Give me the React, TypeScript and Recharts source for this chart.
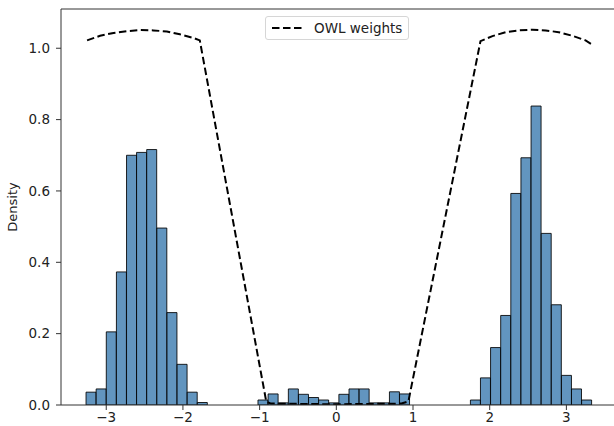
import { Bar, ComposedChart, Legend, Line, XAxis, YAxis } from "recharts";

// histogram bins (centres) and their density
const binCenters = [
  -3.198, -3.066, -2.934, -2.802, -2.67, -2.539, -2.407, -2.275, -2.143, -2.011,
  -1.879, -1.747, -1.615, -1.483, -1.351, -1.22, -1.088, -0.956, -0.824, -0.692,
  -0.56, -0.428, -0.296, -0.165, -0.033, 0.099, 0.231, 0.363, 0.495, 0.627,
  0.758, 0.89, 1.022, 1.154, 1.286, 1.418, 1.55, 1.682, 1.814, 1.945,
  2.077, 2.209, 2.341, 2.473, 2.605, 2.737, 2.869, 3.001, 3.132, 3.264,
];
const density = [
  0.036, 0.045, 0.205, 0.373, 0.7, 0.708, 0.716, 0.496, 0.259, 0.114,
  0.036, 0.007, 0, 0, 0, 0, 0, 0.014, 0.031, 0.006,
  0.045, 0.03, 0.021, 0.014, 0.006, 0.03, 0.045, 0.045, 0.006, 0.006,
  0.037, 0.031, 0, 0, 0, 0, 0, 0, 0.014, 0.076,
  0.161, 0.251, 0.593, 0.693, 0.838, 0.481, 0.281, 0.083, 0.045, 0.014,
];

// OWL weight curve
const owlX = [
  -3.25, -3.08, -2.905, -2.73, -2.56, -2.385, -2.21, -2.04, -1.865, -1.78,
  -0.913, -0.85, 0, 0.85, 0.94, 1.88, 2.036, 2.21, 2.384, 2.557,
  2.73, 2.9, 3.077, 3.25, 3.337,
];
const owlW = [
  1.022, 1.035, 1.043, 1.048, 1.051, 1.05, 1.047, 1.039, 1.029, 1.022,
  0.009, 0.004, 0.002, 0.004, 0.01, 1.02, 1.034, 1.045, 1.05, 1.052,
  1.05, 1.045, 1.035, 1.022, 1.01,
];

const xTicks = [-3, -2, -1, 0, 1, 2, 3];
const yTicks = [0, 0.2, 0.4, 0.6, 0.8, 1.0];
const xDomain = [-3.59, 3.66];

const histData = binCenters.map((x, i) => ({ x, density: density[i] }));
const owlData = owlX.map((x, i) => ({ x, w: owlW[i] }));

const font = "'DejaVu Sans', sans-serif";
const tickStyle = { fontSize: 13.5, fill: "#222", fontFamily: font };

function OwlLegend() {
  return (
    <div
      style={{
        display: "flex",
        alignItems: "center",
        background: "#fff",
        border: "1px solid #d6d6d6",
        borderRadius: 3,
        padding: "3px 6px",
        fontFamily: font,
        fontSize: 13.5,
        color: "#222",
        whiteSpace: "nowrap",
      }}
    >
      <svg width={30} height={6} style={{ marginRight: 12 }}>
        <line x1={0} y1={3} x2={30} y2={3} stroke="#000" strokeWidth={2} strokeDasharray="7.5 3.5" />
      </svg>
      OWL weights
    </div>
  );
}

export default function App() {
  return (
    <div style={{ position: "absolute", left: 0, top: 0, width: 614, height: 426, overflow: "hidden", background: "#fff" }}>
      <ComposedChart
        width={630}
        height={426}
        data={histData}
        margin={{ top: 8, right: 12, bottom: 0, left: 0 }}
        barCategoryGap={0}
        barGap={0}
      >
        <XAxis
          dataKey="x"
          type="number"
          domain={xDomain}
          allowDataOverflow
          ticks={xTicks}
          tickFormatter={(v: number) => String(v).replace("-", "\u2212")}
          tick={tickStyle}
          tickSize={5}
          tickMargin={2}
          height={21}
          stroke="#333"
        />
        {/* top spine, also the x axis of the weight curve */}
        <XAxis
          xAxisId="top"
          orientation="top"
          dataKey="x"
          type="number"
          domain={xDomain}
          allowDataOverflow
          tick={false}
          tickLine={false}
          height={1}
          stroke="#333"
        />
        <YAxis
          type="number"
          domain={[0, 1.11]}
          allowDataOverflow
          ticks={yTicks}
          tickFormatter={(v: number) => v.toFixed(1)}
          tick={tickStyle}
          tickSize={5}
          tickMargin={6}
          width={61}
          stroke="#333"
          label={{ value: "Density", angle: -90, position: "insideLeft", offset: 12, style: { fontSize: 13, fill: "#222", fontFamily: font, textAnchor: "middle" } }}
        />
        <YAxis yAxisId="right" orientation="right" domain={[0, 1.11]} tick={false} tickLine={false} width={1} stroke="#333" />
        <Legend
          layout="horizontal"
          align="center"
          verticalAlign="middle"
          content={() => <OwlLegend />}
          wrapperStyle={{ top: 16, left: 265, width: "auto" }}
        />
        <Bar
          dataKey="density"
          fill="#4682b4"
          fillOpacity={0.85}
          stroke="#000"
          strokeOpacity={0.85}
          strokeWidth={1}
          isAnimationActive={false}
        />
        <Line
          xAxisId="top"
          data={owlData}
          dataKey="w"
          name="OWL weights"
          type="linear"
          stroke="#000"
          strokeWidth={2}
          strokeDasharray="7.5 3.5"
          dot={false}
          activeDot={false}
          isAnimationActive={false}
        />
      </ComposedChart>
    </div>
  );
}
